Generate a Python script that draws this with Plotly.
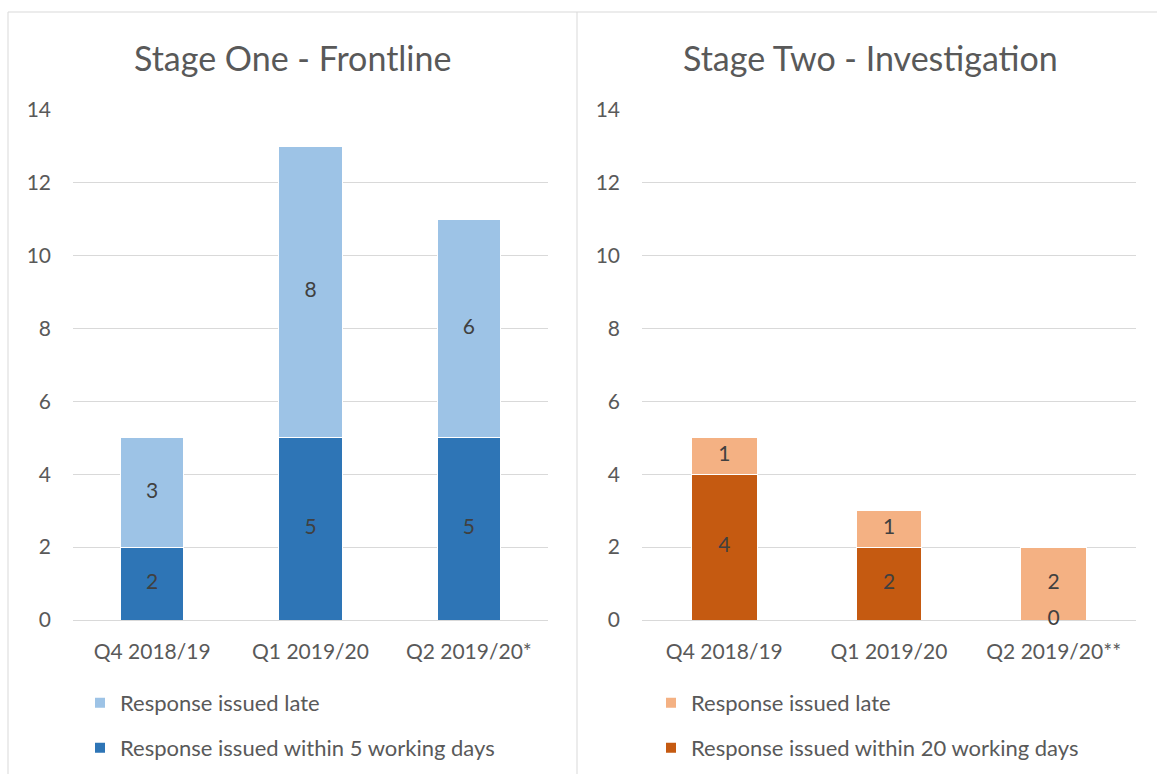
import plotly.graph_objects as go

categories_1 = ["Q4 2018/19", "Q1 2019/20", "Q2 2019/20*"]
within_5 = [2, 5, 5]
late_1 = [3, 8, 6]

categories_2 = ["Q4 2018/19", "Q1 2019/20", "Q2 2019/20**"]
within_20 = [4, 2, 0]
late_2 = [1, 1, 2]

y_ticks = [0, 2, 4, 6, 8, 10, 12, 14]

W, H = 1157, 774
FONT = "Lato"
TXT = "#595959"
LBL = "#404040"
GRID = "#D9D9D9"

LB, LD = "#9DC3E6", "#2E75B6"
OL, OD = "#F4B183", "#C55A11"

fig = go.Figure()

def add_panel(cats, base_vals, top_vals, c_base, c_top, name_base, name_top, xa, ya, lg_base, lg_top):
    fig.add_trace(go.Bar(x=cats, y=base_vals, name=name_base, marker=dict(color=c_base, line=dict(color="white", width=1)),
                         width=0.4, xaxis=xa, yaxis=ya, legend=lg_base, hoverinfo="skip"))
    fig.add_trace(go.Bar(x=cats, y=top_vals, name=name_top, marker=dict(color=c_top, line=dict(color="white", width=1)),
                         width=0.4, xaxis=xa, yaxis=ya, legend=lg_top, hoverinfo="skip"))
    fig.add_trace(go.Scatter(x=cats, y=[v / 2 for v in base_vals], text=[str(v) for v in base_vals], mode="text",
                             textfont=dict(family=FONT, size=21, color=LBL), showlegend=False, xaxis=xa, yaxis=ya,
                             hoverinfo="skip", cliponaxis=False))
    fig.add_trace(go.Scatter(x=cats, y=[b + t / 2 for b, t in zip(base_vals, top_vals)], text=[str(v) for v in top_vals], mode="text",
                             textfont=dict(family=FONT, size=21, color=LBL), showlegend=False, xaxis=xa, yaxis=ya,
                             hoverinfo="skip", cliponaxis=False))

add_panel(categories_1, within_5, late_1, LD, LB, "Response issued within 5 working days", "Response issued late", "x", "y", "legend2", "legend")
add_panel(categories_2, within_20, late_2, OD, OL, "Response issued within 20 working days", "Response issued late", "x2", "y2", "legend4", "legend3")

ydom = [(H - 620) / H, (H - 110) / H]
yax = dict(range=[0, 14], tickvals=y_ticks, showgrid=True, gridcolor=GRID, gridwidth=1, zeroline=True, zerolinecolor=GRID,
           zerolinewidth=1, showline=False, ticks="", tickfont=dict(family=FONT, size=21, color=TXT), ticklabelstandoff=21,
           domain=ydom, fixedrange=True)
xax = dict(range=[-0.5, 2.5], showgrid=False, zeroline=False, showline=False, ticks="", tickfont=dict(family=FONT, size=21, color=TXT),
           ticklabelstandoff=17, fixedrange=True)

def leg(xpx, ypx):
    return dict(x=xpx / W, y=1 - ypx / H, xanchor="left", yanchor="middle", bgcolor="rgba(0,0,0,0)",
                font=dict(family=FONT, size=22, color=TXT), itemwidth=30, itemsizing="constant")

fig.update_layout(
    width=W, height=H, margin=dict(l=0, r=0, t=0, b=0, autoexpand=False),
    paper_bgcolor="white", plot_bgcolor="white",
    barmode="stack", bargap=0.6,
    xaxis=dict(xax, domain=[73 / W, 548 / W], anchor="y"),
    yaxis=dict(yax, anchor="x"),
    xaxis2=dict(xax, domain=[642 / W, 1136 / W], anchor="y2"),
    yaxis2=dict(yax, anchor="x2"),
    legend=leg(80, 703), legend2=leg(80, 748),
    legend3=leg(651, 703), legend4=leg(651, 748),
    showlegend=True,
    annotations=[
        dict(text="Stage One - Frontline", x=292 / W, y=1 - 57 / H, xref="paper", yref="paper", showarrow=False,
             font=dict(family=FONT, size=34, color=TXT), xanchor="center", yanchor="middle"),
        dict(text="Stage Two - Investigation", x=870 / W, y=1 - 57 / H, xref="paper", yref="paper", showarrow=False,
             font=dict(family=FONT, size=34, color=TXT), xanchor="center", yanchor="middle"),
    ],
    shapes=[
        dict(type="line", xref="paper", yref="paper", x0=8 / W, x1=1, y0=1 - 12 / H, y1=1 - 12 / H, line=dict(color=GRID, width=1)),
        dict(type="line", xref="paper", yref="paper", x0=8 / W, x1=8 / W, y0=0, y1=1 - 12 / H, line=dict(color=GRID, width=1)),
        dict(type="line", xref="paper", yref="paper", x0=577 / W, x1=577 / W, y0=0, y1=1 - 12 / H, line=dict(color=GRID, width=1)),
    ],
)

fig.write_html("out.html")
